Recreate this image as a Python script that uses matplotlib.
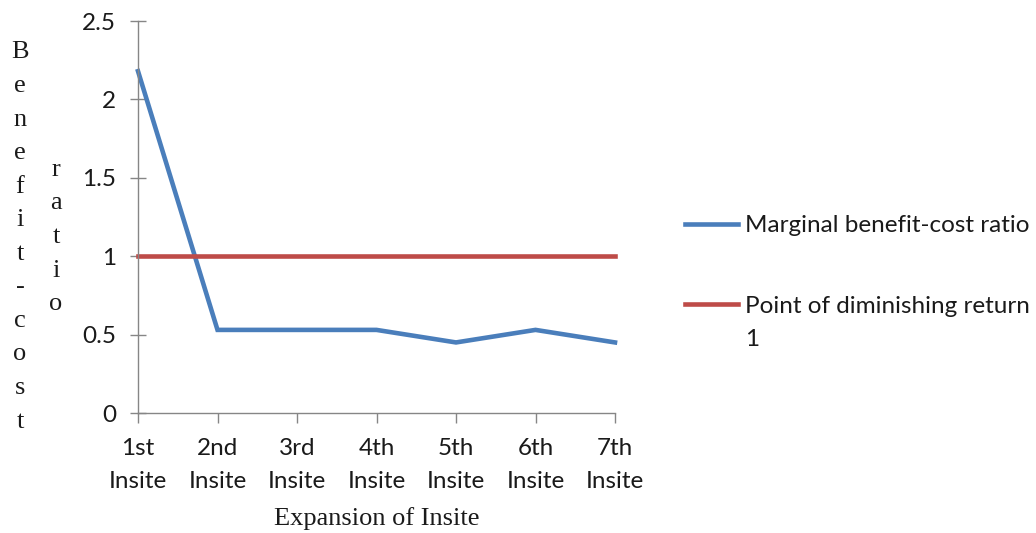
import matplotlib.pyplot as plt
from matplotlib.ticker import FormatStrFormatter, MultipleLocator

# Benefit-cost ratio for each expansion step
stages = ['1st\nInsite', '2nd\nInsite', '3rd\nInsite', '4th\nInsite',
          '5th\nInsite', '6th\nInsite', '7th\nInsite']
marginal_ratio = [2.18, 0.53, 0.53, 0.53, 0.45, 0.53, 0.45]
diminishing_point = [1, 1, 1, 1, 1, 1, 1]

blue = '#4A7EBB'
red = '#BE4B48'
axis_grey = '#868686'
text_col = '#1a1a1a'

plt.rcParams['font.family'] = ['Lato', 'DejaVu Sans']

fig = plt.figure(figsize=(10.36, 5.33), dpi=100)
ax = fig.add_axes([138 / 1036, 1 - 413 / 533, 477 / 1036, 392 / 533])

x = range(len(stages))
ax.plot(x, marginal_ratio, color=blue, lw=3.3, solid_joinstyle='miter',
        label='Marginal benefit-cost ratio', clip_on=False)
ax.plot(x, diminishing_point, color=red, lw=3.3,
        label='Point of diminishing return', clip_on=False)

ax.set_xlim(0, len(stages) - 1)
ax.set_ylim(0, 2.5)
ax.yaxis.set_major_locator(MultipleLocator(0.5))
ax.yaxis.set_major_formatter(FormatStrFormatter('%g'))
ax.set_xticks(list(x))
ax.set_xticklabels(stages, linespacing=1.7)

for side in ('top', 'right'):
    ax.spines[side].set_visible(False)
for side in ('left', 'bottom'):
    ax.spines[side].set_color(axis_grey)
    ax.spines[side].set_linewidth(1.0)

ax.tick_params(axis='y', direction='inout', length=11.5, width=1.0,
               color=axis_grey, labelsize=17.5, labelcolor=text_col, pad=10)
ax.tick_params(axis='x', direction='out', length=7.2, width=1.0,
               color=axis_grey, labelsize=17.5, labelcolor=text_col, pad=11)

# stacked serif axis titles
serif = ['Liberation Serif', 'DejaVu Serif']
fig.text(20 / 1036, 1 - 237 / 533, '\n'.join('Benefit-cost'), family=serif,
         fontsize=19, ha='center', va='center', linespacing=1.68, color=text_col)
fig.text(56 / 1036, 1 - 237 / 533, '\n'.join('ratio'), family=serif,
         fontsize=19, ha='center', va='center', linespacing=1.68, color=text_col)
fig.text(377 / 1036, 1 - 519 / 533, 'Expansion of Insite', family=serif,
         fontsize=19, ha='center', va='center', color=text_col)

leg = fig.legend(loc='upper left', bbox_to_anchor=(685 / 1036, 1 - 215 / 533),
                 frameon=False, fontsize=17.5, handlelength=2.2, handletextpad=0.25,
                 borderpad=0, borderaxespad=0, labelspacing=2.45, labelcolor=text_col)

# second line of the red series name sits under its legend text
fig.canvas.draw()
bb = leg.get_texts()[1].get_window_extent()
fig.text(bb.x0 / 1036, (bb.y0 - 12) / 533, '1', fontsize=17.5, color=text_col,
         ha='left', va='top')

fig.savefig('out.png', dpi=100)
